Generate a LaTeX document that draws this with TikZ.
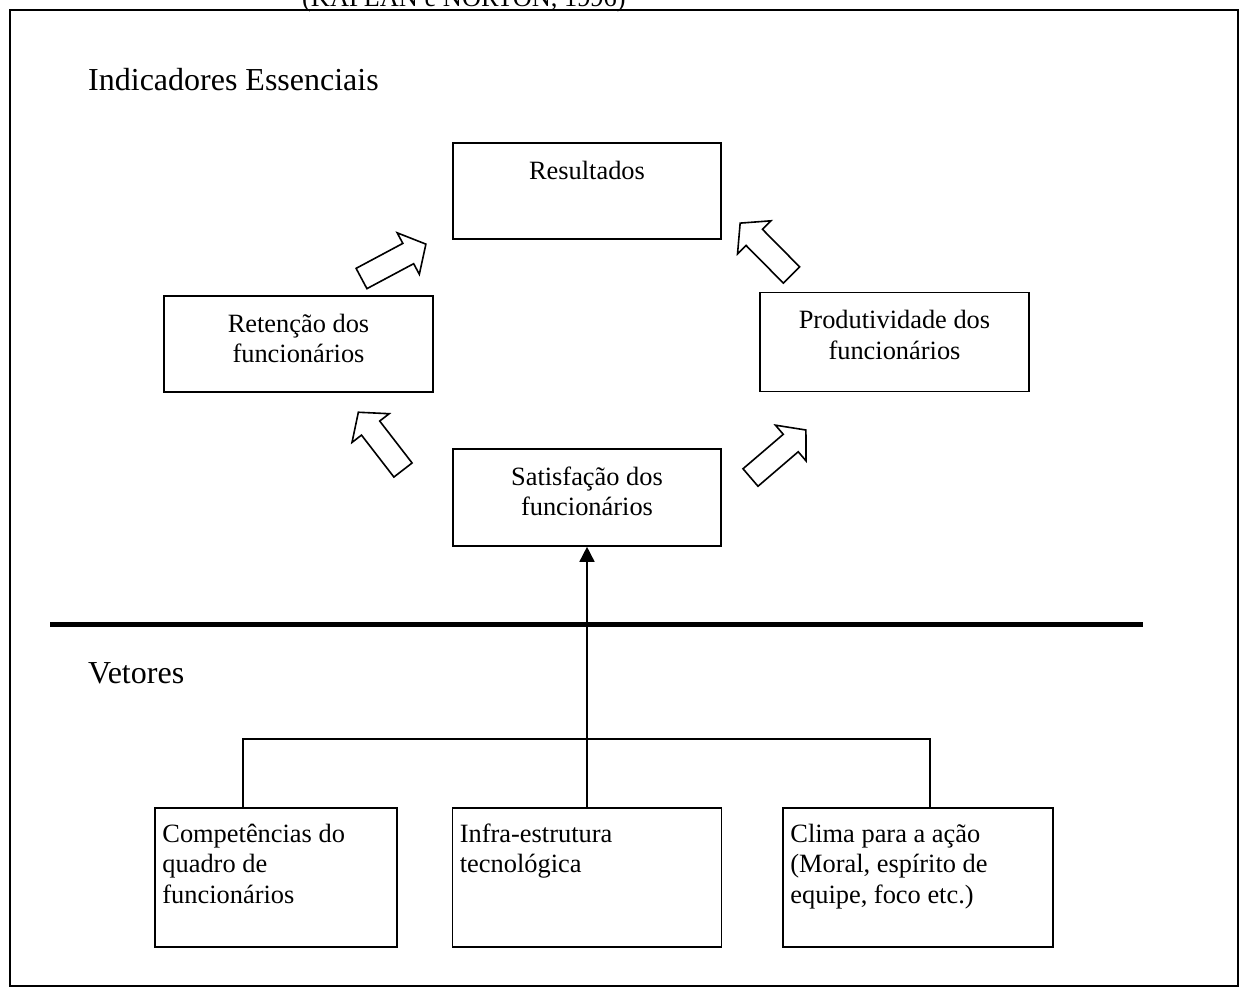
\documentclass[tikz,border=0pt]{standalone}
\usepackage{fontspec}
\setmainfont{Liberation Serif}
\usetikzlibrary{arrows.meta,calc}

\tikzset{
  boxline/.style={line width=1.6pt},
  box/.style={draw, boxline, rectangle, inner sep=0pt},
  boxtext/.style={inner sep=0pt, font=\fontsize{26.4}{30.4}\selectfont},
  headtext/.style={inner sep=0pt, font=\fontsize{32}{37}\selectfont},
  blockarrow/.pic={
    \draw[boxline, fill=white, line join=miter]
      (0,-11.5) -- (53,-11.5) -- (53,-23.5) -- (73,0) -- (53,23.5)
      -- (53,11.5) -- (0,11.5) -- cycle;
  }
}

\newcommand{\ctext}[1]{\parbox[t]{250pt}{\centering #1}}
\newcommand{\ltext}[1]{\parbox[t]{250pt}{\raggedright #1}}

\begin{document}
\begin{tikzpicture}[x=1pt, y=-1pt]
  \useasboundingbox (0,0) rectangle (1239,989);

  % source line above the frame, cut by the page edge
  \node[boxtext, anchor=base west] (src) at (302,6.5) {(KAPLAN e NORTON, 1996)};

  % outer frame
  \draw[boxline] (10,10) rectangle (1238,986);

  % section headings
  \node[headtext, anchor=base west] (ind) at (88,90) {Indicadores Essenciais};
  \node[headtext, anchor=base west] (vet) at (88,683) {Vetores};

  % indicator boxes
  \node[box, minimum width=268pt, minimum height=96pt] (res) at (587,191) {};
  \node[box, minimum width=269pt, minimum height=96pt] (ret) at (298.5,344) {};
  \node[box, minimum width=269pt, minimum height=99pt] (prod) at (894.5,342) {};
  \node[box, minimum width=268pt, minimum height=97pt] (sat) at (587,497.5) {};

  \node[boxtext, anchor=base] (resT) at ($(res.north)+(0,37)$) {\ctext{Resultados}};
  \node[boxtext, anchor=base] (retT) at ($(ret.north)+(0,37)$) {\ctext{Retenção dos\\funcionários}};
  \node[boxtext, anchor=base] (prodT) at ($(prod.north)+(0,37)$) {\ctext{Produtividade dos\\funcionários}};
  \node[boxtext, anchor=base] (satT) at ($(sat.north)+(0,37)$) {\ctext{Satisfação dos\\funcionários}};

  % hollow block arrows between the indicators
  \pic[rotate=28.1]  at (361.5,278.5) {blockarrow};
  \pic[rotate=134.7] at (791.5,275)   {blockarrow};
  \pic[rotate=127.7] at (403,470)     {blockarrow};
  \pic[rotate=40.6]  at (750.5,477.5) {blockarrow};

  % separator between indicators and drivers
  \coordinate (sepL) at (50,624);
  \coordinate (sepR) at (1143,624);
  \draw[line width=5pt] (sepL) -- (sepR);

  % driver boxes
  \node[box, minimum width=242pt, minimum height=139pt] (comp) at (276,877.5) {};
  \node[box, minimum width=269pt, minimum height=139pt] (infra) at (587,877.5) {};
  \node[box, minimum width=270pt, minimum height=139pt] (clima) at (918,877.5) {};

  \node[boxtext, anchor=base west] (compT) at ($(comp.north west)+(8,35)$) {\ltext{Competências do\\quadro de\\funcionários}};
  \node[boxtext, anchor=base west] (infraT) at ($(infra.north west)+(8,35)$) {\ltext{Infra-estrutura\\tecnológica}};
  \node[boxtext, anchor=base west] (climaT) at ($(clima.north west)+(8,35)$) {\ltext{Clima para a ação\\(Moral, espírito de\\equipe, foco etc.)}};

  % connectors from the drivers up to satisfaction
  \coordinate (compTop) at (243,808);
  \coordinate (climaTop) at (930,808);
  \coordinate (hub) at (587,739);
  \draw[boxline] (compTop) |- (hub) -| (climaTop);
  \draw[boxline, -{Triangle[length=15pt, width=15pt]}] (infra.north) -- (sat.south);
\end{tikzpicture}
\end{document}
